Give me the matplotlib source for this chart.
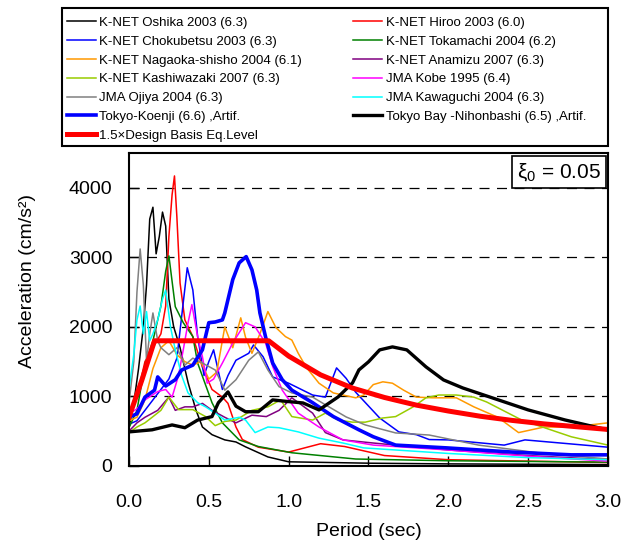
import matplotlib
matplotlib.use('Agg')
import matplotlib.pyplot as plt
from matplotlib.patches import Rectangle

plt.rcParams['font.family'] = ['Liberation Sans', 'DejaVu Sans']

# --- data (period in sec, acceleration in cm/s2) ---
oshika_t = [0.0, 0.03, 0.06, 0.09, 0.11, 0.13, 0.15, 0.17, 0.19, 0.21, 0.23, 0.25, 0.28, 0.32, 0.37,
            0.42, 0.46, 0.52, 0.6, 0.67, 0.73, 0.87, 1.0, 1.5, 2.0, 2.5, 3.0]
oshika_a = [550, 900, 1400, 2000, 2600, 3550, 3720, 3050, 3300, 3650, 3450, 2400, 2000, 1700, 1200,
            800, 560, 450, 375, 345, 275, 130, 60, 40, 30, 25, 20]

hiroo_t = [0.0, 0.05, 0.1, 0.15, 0.2, 0.23, 0.25, 0.27, 0.285, 0.3, 0.31, 0.32, 0.35, 0.4, 0.46, 0.52,
           0.585, 0.62, 0.67, 0.71, 0.81, 1.0, 1.2, 1.35, 1.6, 2.0, 2.5, 3.0]
hiroo_a = [700, 1000, 1500, 1700, 1900, 2300, 3300, 3900, 4170, 3580, 3100, 2630, 2100, 1860, 1420, 1100,
           990, 900, 560, 380, 270, 200, 320, 280, 150, 90, 70, 50]

chokubetsu_t = [0.0, 0.05, 0.1, 0.15, 0.2, 0.25, 0.3, 0.33, 0.365, 0.4, 0.43, 0.47, 0.5, 0.53, 0.585, 0.62,
                0.67, 0.75, 0.78, 0.84, 0.9, 1.0, 1.15, 1.23, 1.3, 1.36, 1.42, 1.57, 1.69, 1.8, 1.88,
                2.0, 2.35, 2.48, 3.0]
chokubetsu_a = [600, 650, 800, 950, 1100, 1250, 1550, 2150, 2850, 2530, 1860, 1300, 1500, 1670, 1100, 1300,
                1520, 1620, 1740, 1570, 1280, 1190, 1020, 990, 1410, 1260, 1060, 690, 490, 450, 380,
                375, 300, 375, 270]

tokamachi_t = [0.0, 0.05, 0.1, 0.15, 0.2, 0.23, 0.25, 0.29, 0.34, 0.4, 0.43, 0.52, 0.585, 0.69, 0.81,
               1.02, 1.42, 2.0, 2.5, 3.0]
tokamachi_a = [550, 800, 1450, 1800, 2300, 2800, 3020, 2290, 2060, 1860, 1480, 910, 620, 375, 280,
               190, 100, 75, 65, 55]

nagaoka_t = [0.0, 0.05, 0.1, 0.15, 0.2, 0.25, 0.3, 0.35, 0.4, 0.45, 0.5, 0.55, 0.6, 0.65, 0.7, 0.73,
             0.77, 0.82, 0.87, 0.92, 0.98, 1.02, 1.06, 1.11, 1.19, 1.28, 1.42, 1.47, 1.53, 1.59, 1.65,
             1.72, 1.8, 1.9, 2.05, 2.16, 2.31, 2.44, 2.6, 2.77, 3.0]
nagaoka_a = [650, 700, 950, 1400, 1700, 1800, 1600, 1500, 1450, 1500, 1250, 1350, 2000, 1700, 2130, 1850,
             1620, 1900, 2220, 1990, 1860, 1810, 1620, 1420, 1190, 1050, 980, 1020, 1170, 1210, 1190,
             1090, 990, 980, 980, 850, 700, 480, 560, 560, 620]

anamizu_t = [0.0, 0.05, 0.1, 0.18, 0.25, 0.29, 0.35, 0.4, 0.46, 0.52, 0.6, 0.67, 0.77, 0.86, 0.94, 1.02,
             1.15, 1.23, 1.34, 1.53, 2.0, 2.5, 3.0]
anamizu_a = [500, 620, 700, 800, 990, 800, 850, 850, 900, 800, 700, 620, 730, 710, 800, 980,
             760, 480, 375, 330, 230, 150, 90]

kashiwazaki_t = [0.0, 0.05, 0.1, 0.145, 0.2, 0.25, 0.31, 0.4, 0.48, 0.54, 0.6, 0.67, 0.77, 0.87, 0.95,
                 1.02, 1.15, 1.23, 1.31, 1.4, 1.48, 1.59, 1.67, 1.78, 1.86, 1.94, 2.05, 2.16, 2.24,
                 2.46, 2.77, 3.0]
kashiwazaki_a = [480, 560, 620, 700, 800, 990, 810, 810, 710, 580, 640, 660, 800, 850, 950,
                 710, 660, 760, 660, 630, 630, 690, 710, 850, 980, 1020, 1020, 990, 920,
                 660, 420, 300]

kobe_t = [0.0, 0.05, 0.1, 0.18, 0.23, 0.27, 0.31, 0.34, 0.37, 0.394, 0.43, 0.46, 0.49, 0.53, 0.585, 0.65,
          0.73, 0.79, 0.855, 0.9, 0.96, 1.06, 1.19, 1.34, 1.53, 2.0, 2.5, 3.0]
kobe_a = [750, 820, 950, 1070, 1100, 990, 1300, 1670, 2060, 2320, 1860, 1570, 1190, 1250, 1480, 1770,
          2060, 2000, 1770, 1430, 1090, 760, 560, 375, 300, 230, 140, 70]

ojiya_t = [0.0, 0.03, 0.05, 0.07, 0.09, 0.11, 0.13, 0.15, 0.18, 0.2, 0.25, 0.3, 0.35, 0.4, 0.46, 0.54,
           0.6, 0.67, 0.75, 0.81, 0.87, 0.94, 1.02, 1.15, 1.23, 1.36, 1.48, 1.67, 1.88, 2.03, 2.19,
           2.56, 3.0]
ojiya_a = [900, 1500, 2500, 3120, 2600, 1500, 1900, 2200, 1800, 1700, 1600, 1700, 1450, 1550, 1480, 1380,
           1090, 1240, 1520, 1640, 1380, 1140, 1050, 990, 880, 705, 590, 475, 445, 375, 300,
           190, 100]

kawaguchi_t = [0.0, 0.03, 0.05, 0.07, 0.09, 0.11, 0.13, 0.15, 0.18, 0.21, 0.23, 0.26, 0.29, 0.33, 0.37,
               0.43, 0.48, 0.54, 0.6, 0.69, 0.73, 0.79, 0.87, 0.94, 1.06, 1.19, 1.34, 1.47, 2.0, 2.5, 3.0]
kawaguchi_a = [1100, 1600, 2100, 2300, 1900, 2220, 1800, 1900, 2100, 2400, 2530, 2000, 1670, 1300, 1050,
               910, 850, 760, 660, 700, 660, 480, 560, 550, 490, 400, 330, 260, 180, 120, 90]

koenji_t = [0.0, 0.05, 0.1, 0.16, 0.18, 0.23, 0.29, 0.33, 0.4, 0.46, 0.5, 0.54, 0.585, 0.6, 0.65, 0.69,
            0.734, 0.77, 0.8, 0.82, 0.855, 0.9, 0.96, 1.02, 1.15, 1.28, 1.44, 1.53, 1.67, 1.99, 2.4,
            2.77, 3.0]
koenji_a = [700, 750, 990, 1090, 1280, 1150, 1240, 1380, 1450, 1670, 2060, 2070, 2100, 2200, 2680, 2920,
            3010, 2820, 2530, 2200, 1860, 1480, 1240, 1090, 910, 710, 520, 420, 300, 260, 200,
            160, 160]

nihonbashi_t = [0.0, 0.145, 0.27, 0.35, 0.43, 0.52, 0.56, 0.62, 0.67, 0.73, 0.81, 0.9, 0.98, 1.09, 1.19,
                1.31, 1.4, 1.44, 1.5, 1.57, 1.65, 1.74, 1.86, 1.97, 2.09, 2.22, 2.5, 2.73, 3.0]
nihonbashi_a = [490, 520, 590, 550, 660, 710, 910, 1065, 860, 780, 780, 950, 930, 906, 806,
                993, 1194, 1381, 1497, 1669, 1712, 1669, 1425, 1237, 1122, 1022, 806, 662, 518]

design_t = [0.0, 0.08, 0.16, 0.875, 1.0, 1.2, 1.4, 1.6, 1.8, 2.0, 2.2, 2.4, 2.6, 2.8, 3.0]
design_a = [700, 1230, 1800, 1800, 1580, 1310, 1120, 985, 875, 790, 715, 655, 605, 565, 525]

xticks = [0.0, 0.5, 1.0, 1.5, 2.0, 2.5, 3.0]
yticks = [0, 1000, 2000, 3000, 4000]

fig = plt.figure(figsize=(6.27, 5.45), dpi=100)
ax = fig.add_axes([0.2057, 0.145, 0.764, 0.5743])

thin = 1.1
lines = {}
lines['oshika'], = ax.plot(oshika_t, oshika_a, color='black', lw=thin, label='K-NET Oshika 2003 (6.3)')
lines['hiroo'], = ax.plot(hiroo_t, hiroo_a, color='#ff0000', lw=thin, label='K-NET Hiroo 2003 (6.0)')
lines['chok'], = ax.plot(chokubetsu_t, chokubetsu_a, color='#0000ff', lw=thin, label='K-NET Chokubetsu 2003 (6.3)')
lines['toka'], = ax.plot(tokamachi_t, tokamachi_a, color='#008000', lw=thin, label='K-NET Tokamachi 2004 (6.2)')
lines['naga'], = ax.plot(nagaoka_t, nagaoka_a, color='#ff9900', lw=thin, label='K-NET Nagaoka-shisho 2004 (6.1)')
lines['anam'], = ax.plot(anamizu_t, anamizu_a, color='#800080', lw=thin, label='K-NET Anamizu 2007 (6.3)')
lines['kash'], = ax.plot(kashiwazaki_t, kashiwazaki_a, color='#99cc00', lw=thin, label='K-NET Kashiwazaki 2007 (6.3)')
lines['kobe'], = ax.plot(kobe_t, kobe_a, color='#ff00ff', lw=thin, label='JMA Kobe 1995 (6.4)')
lines['ojiya'], = ax.plot(ojiya_t, ojiya_a, color='#808080', lw=thin, label='JMA Ojiya 2004 (6.3)')
lines['kawa'], = ax.plot(kawaguchi_t, kawaguchi_a, color='#00ffff', lw=thin, label='JMA Kawaguchi 2004 (6.3)')
lines['koenji'], = ax.plot(koenji_t, koenji_a, color='#0000ff', lw=2.6, label='Tokyo-Koenji (6.6) ,Artif.')
lines['nihon'], = ax.plot(nihonbashi_t, nihonbashi_a, color='black', lw=2.4, label='Tokyo Bay -Nihonbashi (6.5) ,Artif.')
lines['design'], = ax.plot(design_t, design_a, color='#ff0000', lw=3.6, label='1.5×Design Basis Eq.Level')

ax.set_xlim(0, 3.0)
ax.set_ylim(0, 4500)
ax.set_xticks(xticks)
ax.set_xticklabels(['%.1f' % t for t in xticks])
ax.set_yticks(yticks)
ax.tick_params(direction='in', length=7, width=1, labelsize=14)
ax.tick_params(axis='x', pad=20)
ax.tick_params(axis='y', pad=12)
for y in yticks[1:]:
    ax.axhline(y, color='black', lw=0.9, ls=(0, (8, 6)), zorder=0.5)
for s in ax.spines.values():
    s.set_linewidth(1.5)
ax.set_xlabel('Period (sec)', fontsize=14, labelpad=9)
ax.set_ylabel('Acceleration (cm/s²)', fontsize=14)
ax.yaxis.set_label_coords(-0.195, 0.59)

ax.text(0.985, 0.975, r'$\mathregular{\xi_0}$ = 0.05', transform=ax.transAxes, fontsize=15,
        ha='right', va='top',
        bbox=dict(boxstyle='square,pad=0.25', facecolor='white', edgecolor='black', lw=1.2))

# legend box at the top of the figure
fig.patches.append(Rectangle((62 / 627, 1 - 146 / 545), 546 / 627, 138 / 545, transform=fig.transFigure,
                             facecolor='none', edgecolor='black', lw=1.5))
order = ['oshika', 'chok', 'naga', 'kash', 'ojiya', 'koenji', 'design',
         'hiroo', 'toka', 'anam', 'kobe', 'kawa', 'nihon']
handles = [lines[k] for k in order]
fig.legend(handles=handles, labels=[h.get_label() for h in handles], loc='upper left',
           bbox_to_anchor=(64 / 627, 1 - 14 / 545), ncol=2, frameon=False, fontsize=9.5,
           handlelength=2.2, handletextpad=0.25, labelspacing=0.5, columnspacing=3.9,
           borderaxespad=0, borderpad=0.2)

plt.savefig('out.png', dpi=100)
